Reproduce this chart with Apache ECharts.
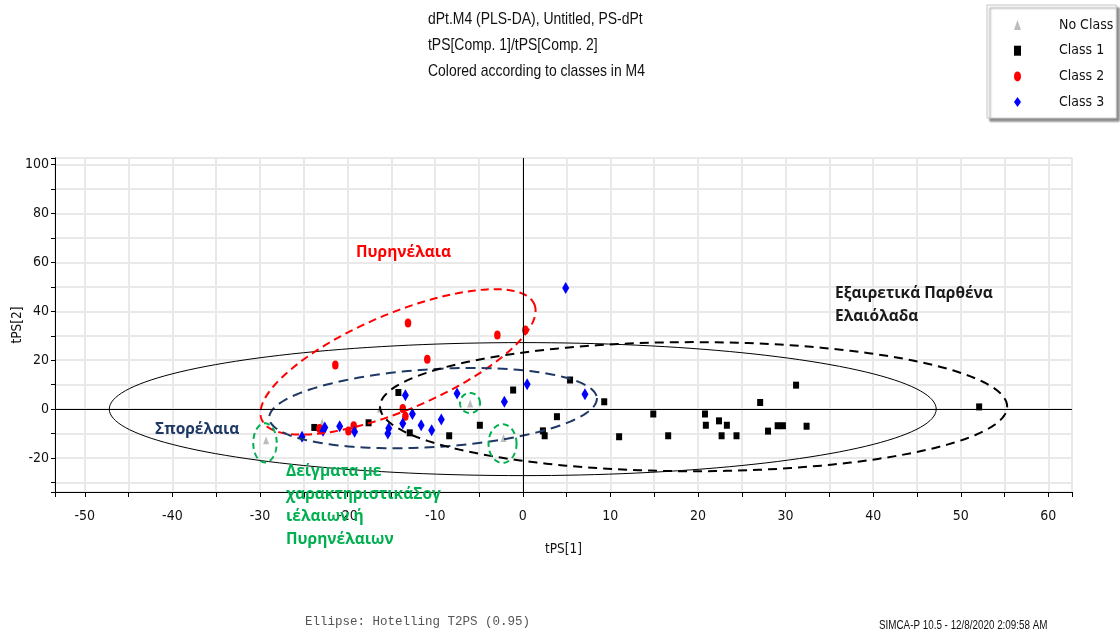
<!DOCTYPE html>
<html>
<head>
<meta charset="utf-8">
<title>tPS[1] / tPS[2] score plot</title>
<script src="https://cdn.jsdelivr.net/npm/echarts@6/dist/echarts.min.js"></script>
<style>
  html, body { margin: 0; padding: 0; background: #fff; }
  #chart { width: 1120px; height: 632px; }
</style>
</head>
<body>
<div id="chart"></div>
<script>
// ---- Score values [tPS[1], tPS[2]] per class ----
const classNames = ['No Class', 'Class 1', 'Class 2', 'Class 3'];

const noClassScores = [
  [-29.3, -12.7], [-6.0, 2.3], [-2.2, -11.8], [-16.3, 0.3], [-22.9, -5.5]
];

const class1Scores = [
  [52.1, 0.9], [31.2, 9.8], [29.1, -6.8], [29.7, -6.8], [32.4, -7.0],
  [27.1, 2.7], [28.0, -9.0], [24.4, -10.9], [23.3, -6.6], [22.4, -4.8],
  [22.7, -10.9], [20.9, -6.6], [20.8, -2.0], [16.6, -10.9], [14.9, -2.0],
  [11.0, -11.3], [9.3, 3.0], [5.4, 11.9], [3.9, -3.1], [2.3, -8.9],
  [2.5, -10.9], [-1.1, 7.8], [-4.9, -6.6], [-8.4, -10.9], [-12.9, -9.7],
  [-14.2, 6.8], [-17.6, -5.6], [-23.8, -7.5]
];

const class2Scores = [
  [-13.1, 35.2], [-21.4, 18.0], [-10.9, 20.4], [-2.9, 30.3], [0.3, 32.4],
  [-13.7, 0.3], [-13.4, -2.9], [-19.3, -6.8], [-19.9, -9.0], [-23.2, -7.9]
];

const class3Scores = [
  [4.9, 49.5], [0.5, 10.2], [-2.1, 3.0], [7.1, 6.1], [-7.5, 6.4],
  [-13.4, 5.7], [-12.6, -2.0], [-9.3, -4.2], [-10.4, -8.6], [-11.6, -6.6],
  [-13.7, -5.9], [-15.3, -7.8], [-15.4, -10.0], [-19.2, -9.3], [-20.9, -7.0],
  [-22.6, -7.5], [-22.8, -8.9], [-25.2, -11.3]
];

// ---- Axis extents and tick steps ----
const xExtent = [-53.4, 62.7];
const yExtent = [-33.9, 102.7];
const xTickStep = 5, xLabelStep = 10;
const yTickStep = 10, yLabelStep = 20;

// ---- Ellipses: [centre x, centre y, semi-axis 1 (dx, dy), semi-axis 2 (dx, dy)] ----
const hotellingEllipse = [[0, 0, 47.2, 0, 0, 27.2]];
const groupEllipses = [
  [-14.24, 19.3, 15.56, 23.6, 2.13, -18.1],   // Πυρηνέλαια
  [-10.24, 0.4, 18.7, 4.1, 0.27, -15.9],      // Σπορέλαια
  [19.5, 1.0, 35.8, 0, 0, 26.4],              // Εξαιρετικά Παρθένα Ελαιόλαδα
  [-29.43, -13.8, 1.34, 0, 0, 8.0],           // samples with seed / pomace oil traits
  [-6.02, 2.5, 1.14, 0, 0, 4.1],
  [-2.31, -14.1, 1.6, 0, 0, 7.9]
];

// ---- Text ----
const titleLines = [
  'dPt.M4 (PLS-DA), Untitled, PS-dPt',
  'tPS[Comp. 1]/tPS[Comp. 2]',
  'Colored according to classes in M4'
];
const footerLeft = 'Ellipse: Hotelling T2PS (0.95)';
const footerRight = 'SIMCA-P 10.5 - 12/8/2020 2:09:58 AM';

// ---- Styling ----
const CONDENSED = "'DejaVu Sans Condensed', 'Liberation Sans Narrow', sans-serif";
const SANS = "'Liberation Sans', Arial, sans-serif";
const GREEK_BOLD = "'Open Sans', 'Noto Sans', sans-serif";
const NARROW_SCALE = 0.82;
const ellipseLook = [
  { stroke: '#ff0000', lineDash: [8, 5] },
  { stroke: '#1f3864', lineDash: [10, 6] },
  { stroke: '#000000', lineDash: [9, 6] },
  { stroke: '#00b050', lineDash: [6, 4] },
  { stroke: '#00b050', lineDash: [6, 4] },
  { stroke: '#00b050', lineDash: [6, 4] }
];

function ellipseRenderer(lookFor) {
  return function (params, api) {
    const cx = api.value(0), cy = api.value(1);
    const ux = api.value(2), uy = api.value(3);
    const vx = api.value(4), vy = api.value(5);
    const pts = [];
    const n = 180;
    for (let i = 0; i < n; i++) {
      const t = 2 * Math.PI * i / n;
      const c = Math.cos(t), s = Math.sin(t);
      pts.push(api.coord([cx + c * ux + s * vx, cy + c * uy + s * vy]));
    }
    const look = lookFor(params.dataIndex);
    return {
      type: 'polygon',
      shape: { points: pts },
      style: {
        fill: 'none',
        stroke: look.stroke,
        lineWidth: look.lineWidth,
        lineDash: look.lineDash || null
      },
      silent: true
    };
  };
}

function isMultiple(v, step) {
  return Math.abs(v / step - Math.round(v / step)) < 1e-6;
}

// condensed sans text (horizontally scaled Liberation Sans)
function narrowText(str, x, y, size, fill) {
  return {
    type: 'text', x: x, y: y, scaleX: NARROW_SCALE, scaleY: 1, z: 10, silent: true,
    style: { text: str, fill: fill || '#111', font: size + 'px ' + SANS, verticalAlign: 'middle', align: 'left' }
  };
}

const chart = echarts.init(document.getElementById('chart'), null, { renderer: 'canvas' });

const graphics = [];
titleLines.forEach(function (line, i) {
  graphics.push(narrowText(line, 428, 19 + i * 26, 17));
});
graphics.push(
  {
    type: 'text', x: 356, y: 253, z: 10, silent: true,
    style: { text: 'Πυρηνέλαια', fill: '#ff0000', font: 'bold 15.5px ' + GREEK_BOLD, verticalAlign: 'middle' }
  },
  {
    type: 'text', x: 835, y: 305.5, z: 10, silent: true,
    style: { text: 'Εξαιρετικά Παρθένα\nΕλαιόλαδα', fill: '#1a1a1a', font: 'bold 15.5px ' + GREEK_BOLD, lineHeight: 23, verticalAlign: 'middle' }
  },
  {
    type: 'text', x: 155, y: 430, z: 10, silent: true,
    style: { text: 'Σπορέλαια', fill: '#1f3864', font: 'bold 15.5px ' + GREEK_BOLD, verticalAlign: 'middle' }
  },
  {
    type: 'text', x: 286, y: 505.7, z: 10, silent: true,
    style: {
      text: 'Δείγματα με\nχαρακτηριστικάΣογ\nιέλαιων ή\nΠυρηνέλαιων',
      fill: '#00b050', font: 'bold 15.5px ' + GREEK_BOLD, lineHeight: 22.6, verticalAlign: 'middle'
    }
  },
  {
    type: 'text', x: 305, y: 622, z: 10, silent: true,
    style: { text: footerLeft, fill: '#555', font: '12.5px "Liberation Mono", "DejaVu Sans Mono", monospace', verticalAlign: 'middle' }
  },
  narrowText(footerRight, 879, 626, 12)
);

const option = {
  animation: false,
  backgroundColor: '#ffffff',
  legend: {
    data: classNames,
    orient: 'vertical',
    left: 987,
    top: 5,
    padding: [11, 3, 7, 27],
    itemWidth: 7,
    itemHeight: 10,
    itemGap: 7.7,
    symbolKeepAspect: false,
    selectedMode: false,
    backgroundColor: '#ffffff',
    borderColor: '#c4c4c4',
    borderWidth: 1,
    shadowColor: 'rgba(0,0,0,0.45)',
    shadowBlur: 2,
    shadowOffsetX: 3,
    shadowOffsetY: 3,
    textStyle: {
      fontFamily: CONDENSED,
      fontSize: 14,
      lineHeight: 18,
      color: '#111',
      padding: [0, 0, 0, 33]
    }
  },
  grid: {
    left: 55,
    right: 48,
    top: 158,
    bottom: 140,
    show: true,
    borderColor: '#000',
    borderWidth: 1,
    backgroundColor: 'transparent',
    containLabel: false,
    outerBoundsMode: 'none'
  },
  xAxis: {
    type: 'value',
    min: xExtent[0],
    max: xExtent[1],
    minInterval: xTickStep,
    maxInterval: xTickStep,
    name: 'tPS[1]',
    nameLocation: 'middle',
    nameGap: 50,
    nameMoveOverlap: false,
    nameTextStyle: { fontFamily: CONDENSED, fontSize: 13.5, color: '#111' },
    axisLine: { show: true, onZero: false, lineStyle: { color: '#000', width: 1 } },
    axisTick: { show: true, inside: false, length: 5, lineStyle: { color: '#000' } },
    axisLabel: {
      margin: 17,
      fontFamily: CONDENSED,
      fontSize: 14,
      color: '#111',
      formatter: function (v) { return isMultiple(v, xLabelStep) ? String(Math.round(v)) : ''; }
    },
    splitLine: { show: true, lineStyle: { color: '#e9e9e9', width: 2 } }
  },
  yAxis: {
    type: 'value',
    min: yExtent[0],
    max: yExtent[1],
    minInterval: yTickStep,
    maxInterval: yTickStep,
    name: 'tPS[2]',
    nameLocation: 'middle',
    nameGap: 31,
    nameMoveOverlap: false,
    nameTextStyle: { fontFamily: CONDENSED, fontSize: 13.5, color: '#111' },
    axisLine: { show: true, onZero: false, lineStyle: { color: '#000', width: 1 } },
    axisTick: { show: true, inside: false, length: 4, lineStyle: { color: '#000' } },
    axisLabel: {
      margin: 6,
      fontFamily: CONDENSED,
      fontSize: 14,
      color: '#111',
      formatter: function (v) { return isMultiple(v, yLabelStep) ? String(Math.round(v)) : ''; }
    },
    splitLine: { show: true, lineStyle: { color: '#e9e9e9', width: 2 } }
  },
  series: [
    {
      name: 'Hotelling T2PS (0.95)',
      type: 'custom',
      data: hotellingEllipse,
      renderItem: ellipseRenderer(function () { return { stroke: '#000', lineWidth: 1 }; }),
      silent: true,
      z: 2,
      markLine: {
        silent: true,
        symbol: ['none', 'none'],
        label: { show: false },
        lineStyle: { color: '#000', width: 1, type: 'solid' },
        emphasis: { disabled: true },
        data: [{ xAxis: 0 }, { yAxis: 0 }]
      }
    },
    {
      name: classNames[0],
      type: 'scatter',
      data: noClassScores,
      symbol: 'triangle',
      symbolSize: [6, 8],
      itemStyle: { color: '#bdbdbd', opacity: 1 },
      silent: true,
      z: 3
    },
    {
      name: classNames[1],
      type: 'scatter',
      data: class1Scores,
      symbol: 'rect',
      symbolSize: [6, 7],
      itemStyle: { color: '#000000', opacity: 1 },
      silent: true,
      z: 3
    },
    {
      name: classNames[2],
      type: 'scatter',
      data: class2Scores,
      symbol: 'path://M5,0A5,5 0 1,1 5,10A5,5 0 1,1 5,0Z',
      symbolSize: [6.5, 9],
      symbolKeepAspect: false,
      itemStyle: { color: '#ff0000', opacity: 1 },
      silent: true,
      z: 3
    },
    {
      name: classNames[3],
      type: 'scatter',
      data: class3Scores,
      symbol: 'diamond',
      symbolSize: [7, 12],
      itemStyle: { color: '#0000ff', opacity: 1 },
      silent: true,
      z: 3
    },
    {
      name: 'Group ellipses',
      type: 'custom',
      data: groupEllipses,
      renderItem: ellipseRenderer(function (i) {
        return { stroke: ellipseLook[i].stroke, lineDash: ellipseLook[i].lineDash, lineWidth: 2 };
      }),
      silent: true,
      z: 4
    }
  ],
  graphic: graphics
};

chart.setOption(option);
</script>
</body>
</html>
